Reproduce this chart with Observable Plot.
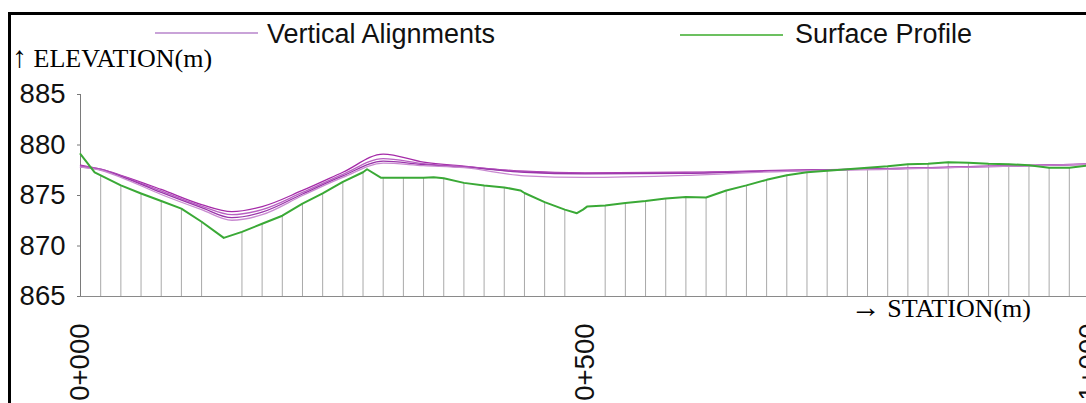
<!DOCTYPE html>
<html>
<head>
<meta charset="utf-8">
<script src="https://cdn.jsdelivr.net/npm/d3@7"></script>
<script src="https://cdn.jsdelivr.net/npm/@observablehq/plot@0.6"></script>
<style>
  body { margin: 0; background: #fff; }
  #wrap { position: relative; width: 1086px; height: 403px; overflow: hidden; background: #fff; font-family: "Liberation Sans", Arial, sans-serif; }
  #chart { position: absolute; left: 0; top: 0; }
  #frame { position: absolute; left: 8px; top: 12px; width: 1200px; height: 500px; border-top: 3px solid #000; border-left: 3px solid #000; pointer-events: none; }
  .lg { position: absolute; font-size: 27px; color: #111; line-height: 1; white-space: nowrap; }
  .sw { position: absolute; height: 0; width: 103px; }
  .ax { position: absolute; font-family: "Liberation Serif", "Times New Roman", serif; font-size: 26px; color: #000; line-height: 1; white-space: nowrap; }
  .arr { font-size: 30px; }
</style>
</head>
<body>
<div id="wrap">
  <div id="chart"></div>
  <div id="frame"></div>
  <div class="sw" style="left:155px; top:32px; border-top:2px solid #c9a3d8;"></div>
  <div class="lg" style="left:267px; top:21px;">Vertical Alignments</div>
  <div class="sw" style="left:680px; top:34px; border-top:2px solid #6cc060;"></div>
  <div class="lg" style="left:795px; top:21px;">Surface Profile</div>
  <div class="ax" style="left:12px; top:42px;"><span class="arr">↑</span> ELEVATION(m)</div>
  <div class="ax" style="right:55px; top:292px;"><span class="arr">→</span> STATION(m)</div>
</div>
<script>
// ---- data ----
const surfaceStation = [0, 14, 20, 40, 60, 80, 100, 120, 142, 160, 180, 200, 220, 240, 260, 280, 284, 298, 300, 320, 340, 350, 360, 380, 400, 420, 436, 440, 460, 480, 492, 498, 502, 520, 540, 560, 580, 600, 620, 640, 660, 680, 700, 720, 740, 760, 780, 800, 820, 840, 860, 880, 900, 920, 940, 960, 980, 1000];
const surfaceElev = [879.1, 877.3, 877.0, 876.0, 875.2, 874.45, 873.7, 872.4, 870.8, 871.4, 872.2, 873.0, 874.2, 875.2, 876.35, 877.3, 877.6, 876.75, 876.75, 876.75, 876.75, 876.8, 876.7, 876.25, 876.0, 875.8, 875.5, 875.25, 874.35, 873.6, 873.25, 873.6, 873.9, 874.0, 874.25, 874.45, 874.7, 874.85, 874.8, 875.5, 876.0, 876.55, 877.0, 877.3, 877.45, 877.6, 877.75, 877.9, 878.1, 878.15, 878.3, 878.25, 878.15, 878.1, 878.0, 877.75, 877.75, 878.0];

const alignStation = [0, 20, 40, 80, 120, 150, 180, 220, 260, 300, 340, 380, 440, 500, 600, 700, 800, 900, 1000];
const va1 = [878.0, 877.6, 877.0, 875.6, 874.1, 873.4, 873.9, 875.5, 877.3, 879.1, 878.3, 877.9, 877.4, 877.25, 877.3, 877.5, 877.65, 877.9, 878.1];
const va2 = [877.9, 877.6, 876.95, 875.45, 873.95, 873.1, 873.6, 875.3, 877.1, 878.65, 878.15, 877.85, 877.35, 877.2, 877.25, 877.45, 877.65, 877.9, 878.1];
const va3 = [877.8, 877.55, 876.9, 875.3, 873.8, 872.8, 873.35, 875.15, 876.95, 878.4, 878.05, 877.8, 877.3, 877.15, 877.2, 877.45, 877.65, 877.85, 878.1];
const va4 = [877.8, 877.5, 876.8, 875.1, 873.6, 872.55, 873.1, 875.0, 876.8, 878.2, 877.95, 877.75, 876.95, 876.8, 877.0, 877.4, 877.6, 877.85, 878.1];
const vaColors = ["#a52aa8", "#b860c2", "#9a35aa", "#c88ad0"];

const yTicks = [865, 870, 875, 880, 885];
const xTicks = [0, 500, 1000];
const xDomain = [0, 1000];
const yDomain = [865, 885];
const gridStep = 20;

// ---- tables ----
const surface = surfaceStation.map((s, i) => ({station: s, elev: surfaceElev[i]}));
const gridRows = surface.filter(d => d.station > 0 && d.station % gridStep === 0);
const alignments = [va1, va2, va3, va4].map(arr => alignStation.map((s, i) => ({station: s, elev: arr[i]})));

const fmtStation = d => `${Math.floor(d / 1000)}+${String(d % 1000).padStart(3, "0")}`;

const chart = Plot.plot({
  width: 1086,
  height: 403,
  marginTop: 94,
  marginBottom: 107,
  marginLeft: 80,
  marginRight: 0,
  style: {fontFamily: "'Liberation Sans', Arial, sans-serif", background: "transparent", color: "#111"},
  x: {domain: xDomain, range: [80, 1089]},
  y: {domain: yDomain, range: [296, 94]},
  marks: [
    Plot.ruleX(gridRows, {x: "station", y1: yDomain[0], y2: "elev", stroke: "#a9a9a9", strokeWidth: 1}),
    Plot.ruleX([xDomain[0]], {y1: yDomain[0], y2: yDomain[1], stroke: "#7a7a7a", strokeWidth: 1}),
    Plot.ruleY([yDomain[0]], {stroke: "#8a8a8a", strokeWidth: 1}),
    ...alignments.map((rows, k) => Plot.line(rows, {x: "station", y: "elev", stroke: vaColors[k], strokeWidth: 1.3, curve: "monotone-x"})),
    Plot.line(surface, {x: "station", y: "elev", stroke: "#3aa936", strokeWidth: 2}),
    Plot.axisY({ticks: yTicks, tickSize: 3, tickPadding: 12, fontSize: 27.5, label: null, stroke: "#777", fill: "#111"}),
    Plot.axisX({ticks: xTicks, tickFormat: fmtStation, tickRotate: -90, tickSize: 0, tickPadding: 27, fontSize: 27.5, label: null, fill: "#111"})
  ]
});
document.getElementById("chart").appendChild(chart);
</script>
</body>
</html>
